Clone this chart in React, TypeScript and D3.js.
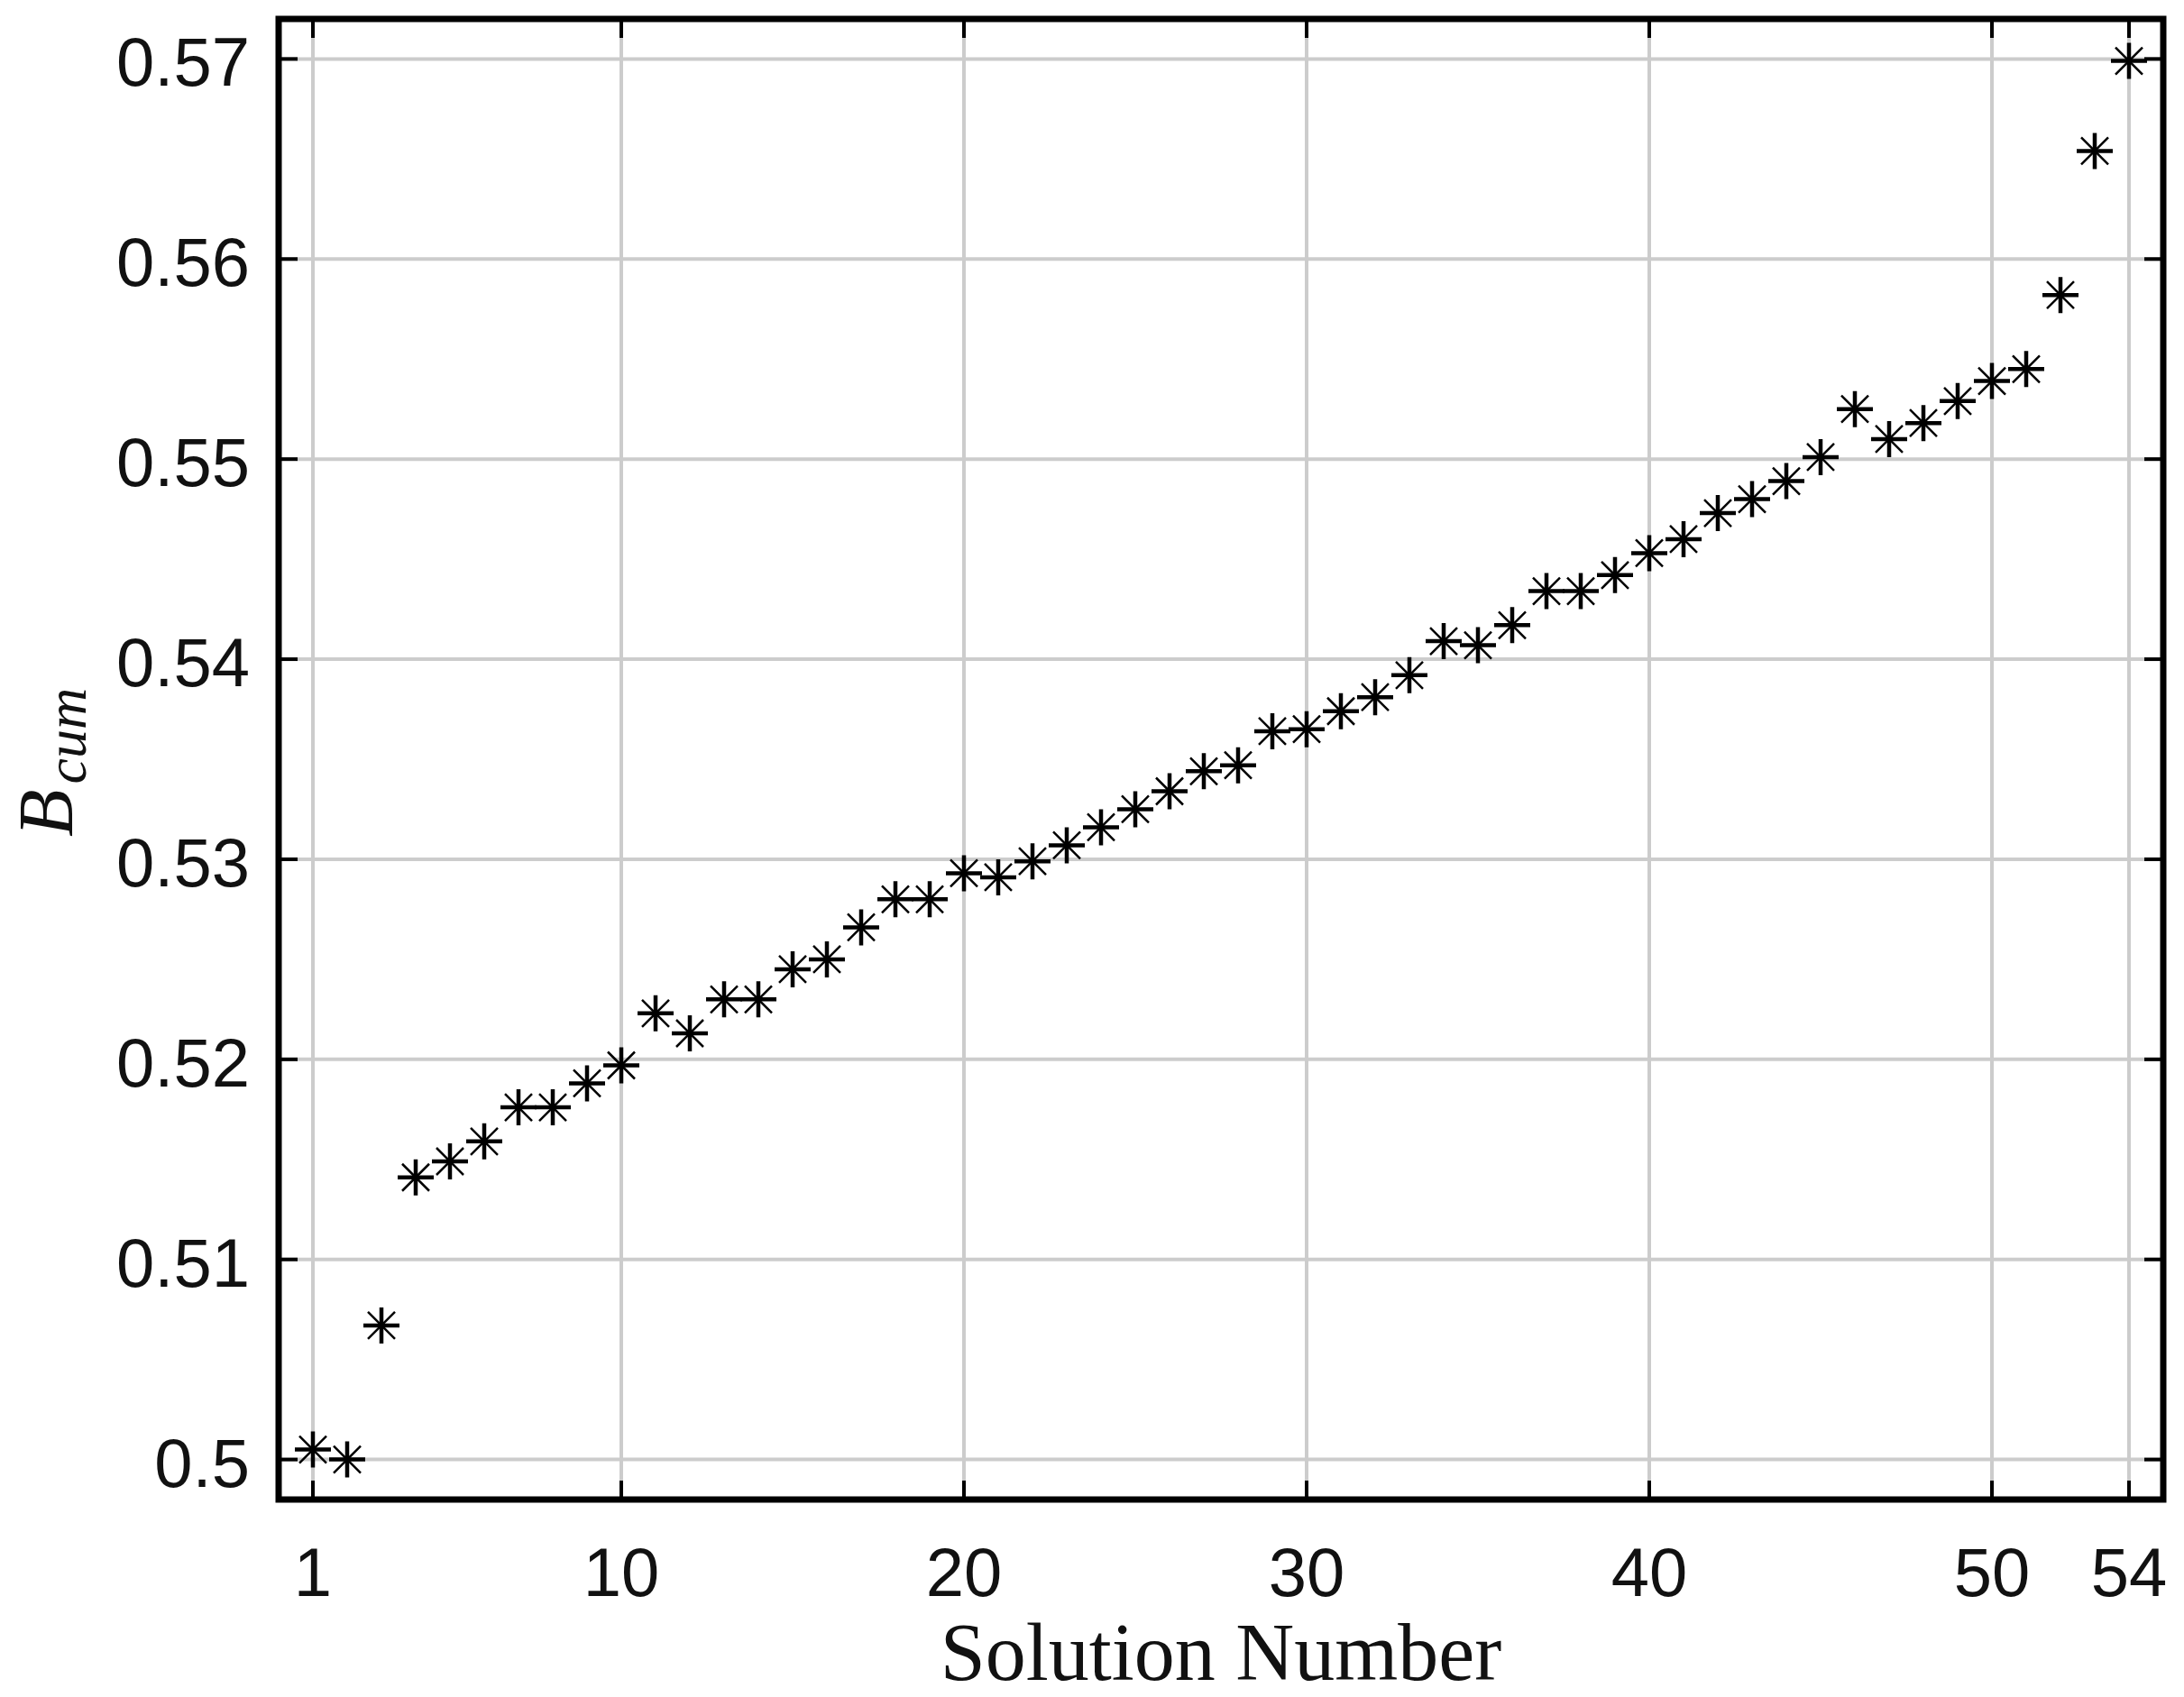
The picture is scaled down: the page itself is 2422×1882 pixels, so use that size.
import React, { useEffect, useRef } from "react";
import * as d3 from "d3";

const solutionNumbers: number[] = [
  1, 2, 3, 4, 5, 6, 7, 8, 9, 10, 11, 12, 13, 14, 15, 16, 17, 18, 19, 20, 21, 22, 23, 24, 25, 26, 27,
  28, 29, 30, 31, 32, 33, 34, 35, 36, 37, 38, 39, 40, 41, 42, 43, 44, 45, 46, 47, 48, 49, 50, 51, 52,
  53, 54,
];

const bCum: number[] = [
  0.5005, 0.5, 0.5067, 0.5141, 0.5149, 0.5159, 0.5176, 0.5176, 0.5188, 0.5197,
  0.5223, 0.5213, 0.523, 0.5230, 0.5245, 0.5250, 0.5266, 0.528, 0.528, 0.5293,
  0.5291, 0.5299, 0.5307, 0.5316, 0.5325, 0.5334, 0.5344, 0.5347, 0.5364, 0.5365,
  0.5374, 0.5381, 0.5392, 0.5409, 0.5407, 0.5417, 0.5434, 0.5434, 0.5442, 0.5453,
  0.5460, 0.5473, 0.5480, 0.5489, 0.5501, 0.5525, 0.5510, 0.5518, 0.5529, 0.5539,
  0.5545, 0.5582, 0.5654, 0.5699,
];

const xTicks: number[] = [1, 10, 20, 30, 40, 50, 54];
const yTicks: number[] = [0.5, 0.51, 0.52, 0.53, 0.54, 0.55, 0.56, 0.57];
const yTickLabels: string[] = ["0.5", "0.51", "0.52", "0.53", "0.54", "0.55", "0.56", "0.57"];

const App: React.FC = () => {
  const svgRef = useRef<SVGSVGElement | null>(null);

  useEffect(() => {
    const svg = d3.select(svgRef.current);
    svg.selectAll("*").remove();

    const width = 2422;
    const height = 1882;
    const plot = { left: 309, right: 2399, top: 21, bottom: 1663 };

    const x = d3.scaleLinear().domain([0, 55]).range([plot.left, plot.right]);
    const y = d3.scaleLinear().domain([0.498, 0.572]).range([plot.bottom, plot.top]);

    svg.attr("width", width).attr("height", height);

    svg
      .append("rect")
      .attr("width", width)
      .attr("height", height)
      .attr("fill", "white");

    // grid
    const grid = svg.append("g").attr("stroke", "#cccccc").attr("stroke-width", 4);
    grid
      .selectAll("line.vg")
      .data(xTicks)
      .join("line")
      .attr("class", "vg")
      .attr("x1", (d) => x(d))
      .attr("x2", (d) => x(d))
      .attr("y1", plot.top)
      .attr("y2", plot.bottom);
    grid
      .selectAll("line.hg")
      .data(yTicks)
      .join("line")
      .attr("class", "hg")
      .attr("x1", plot.left)
      .attr("x2", plot.right)
      .attr("y1", (d) => y(d))
      .attr("y2", (d) => y(d));

    // ticks (inward, all four sides)
    const tickLen = 21;
    const ticks = svg.append("g").attr("stroke", "black").attr("stroke-width", 4);
    xTicks.forEach((t) => {
      ticks.append("line").attr("x1", x(t)).attr("x2", x(t)).attr("y1", plot.bottom).attr("y2", plot.bottom - tickLen);
      ticks.append("line").attr("x1", x(t)).attr("x2", x(t)).attr("y1", plot.top).attr("y2", plot.top + tickLen);
    });
    yTicks.forEach((t) => {
      ticks.append("line").attr("x1", plot.left).attr("x2", plot.left + tickLen).attr("y1", y(t)).attr("y2", y(t));
      ticks.append("line").attr("x1", plot.right).attr("x2", plot.right - tickLen).attr("y1", y(t)).attr("y2", y(t));
    });

    // frame
    svg
      .append("rect")
      .attr("x", plot.left)
      .attr("y", plot.top)
      .attr("width", plot.right - plot.left)
      .attr("height", plot.bottom - plot.top)
      .attr("fill", "none")
      .attr("stroke", "black")
      .attr("stroke-width", 7);

    // tick labels
    svg
      .selectAll("text.xt")
      .data(xTicks)
      .join("text")
      .attr("class", "xt")
      .attr("x", (d) => x(d))
      .attr("y", 1770)
      .attr("text-anchor", "middle")
      .attr("font-family", "'Liberation Sans', Arial, sans-serif")
      .attr("font-size", 76)
      .attr("fill", "#111")
      .text((d) => String(d));

    svg
      .selectAll("text.yt")
      .data(yTicks)
      .join("text")
      .attr("class", "yt")
      .attr("x", 277)
      .attr("y", (d) => y(d) + 30)
      .attr("text-anchor", "end")
      .attr("font-family", "'Liberation Sans', Arial, sans-serif")
      .attr("font-size", 76)
      .attr("fill", "#111")
      .text((_, i) => yTickLabels[i]);

    // markers: MATLAB-style asterisk (bold plus, thinner diagonals)
    const markers = svg
      .append("g")
      .selectAll("g")
      .data(solutionNumbers)
      .join("g")
      .attr("transform", (d, i) => `translate(${x(d)},${y(bCum[i])})`)
      .attr("fill", "none")
      .attr("stroke", "black");
    markers.append("path").attr("d", "M0,-20V20M-20,0H20").attr("stroke-width", 4.5);
    markers.append("path").attr("d", "M-15,-15L15,15M-15,15L15,-15").attr("stroke-width", 2.5);

    // axis titles
    svg
      .append("text")
      .attr("x", (plot.left + plot.right) / 2)
      .attr("y", 1863)
      .attr("text-anchor", "middle")
      .attr("font-family", "'Liberation Serif', 'Times New Roman', serif")
      .attr("font-size", 90)
      .attr("fill", "#111")
      .text("Solution Number");

    const yl = svg
      .append("text")
      .attr("transform", "translate(80,928) rotate(-90)")
      .attr("font-family", "'Liberation Serif', 'Times New Roman', serif")
      .attr("font-style", "italic")
      .attr("fill", "#111");
    yl.append("tspan").attr("font-size", 86).text("B");
    yl.append("tspan").attr("font-size", 64).attr("dx", 6).attr("dy", 15).text("cum");
  }, []);

  return (
    <div style={{ position: "absolute", left: 0, top: 0 }}>
      <svg ref={svgRef} style={{ display: "block" }}></svg>
    </div>
  );
};

export default App;
